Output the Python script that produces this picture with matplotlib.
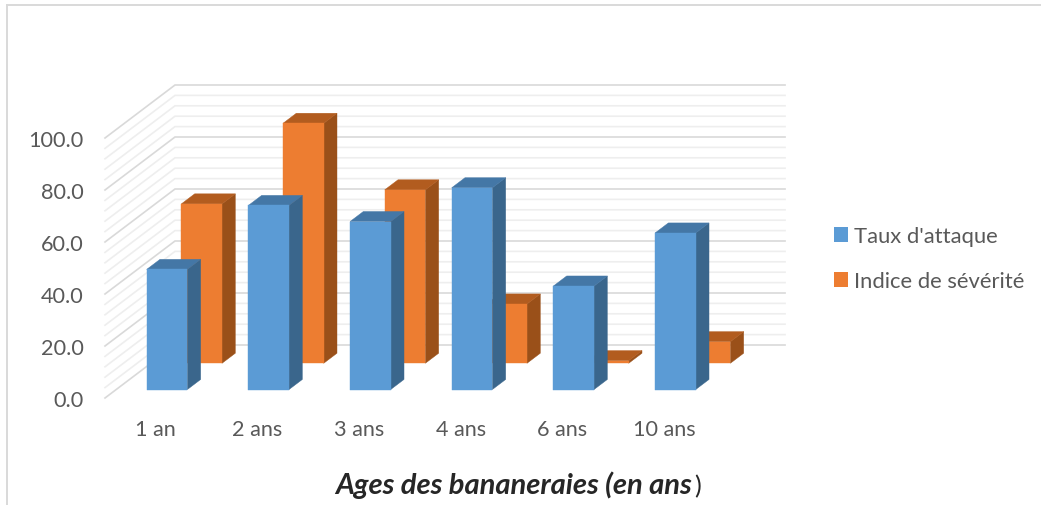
import matplotlib
matplotlib.use("Agg")
import matplotlib.pyplot as plt
from matplotlib.patches import Polygon, Patch
from matplotlib.lines import Line2D

categories = ["1 an", "2 ans", "3 ans", "4 ans", "6 ans", "10 ans"]
taux_attaque = [46.2, 70.8, 64.6, 77.6, 39.8, 60.2]
indice_severite = [61.3, 92.3, 66.7, 22.8, 1.0, 8.3]
value_ticks = [0, 20, 40, 60, 80, 100]
minor_ticks = [v for v in range(0, 101, 4) if v % 20]

W, H = 1041, 506
plt.rcParams["font.family"] = ["Lato", "DejaVu Sans"]
TEXT = "#595959"
GRID = "#D9D9D9"
GRID_MINOR = "#EEEEEE"

fig = plt.figure(figsize=(W / 100, H / 100), dpi=100)
ax = fig.add_axes([105 / W, (H - 399) / H, 680 / W, 313 / H])
ax.set_xlim(0, 680 / 101.67)
ax.set_ylim(0, 313 / 2.6)
ax.patch.set_alpha(0)
for s in ax.spines.values():
    s.set_visible(False)

# Oblique projection: depth 0 = front of the floor, depth 1 = back wall
DX = 70 / 101.67
DV = 53 / 2.6


def proj(cat, val, depth):
    return (cat + depth * DX, val + depth * DV)


# Walls and gridlines
n = len(categories)
for ticks, color, lw, z in ((minor_ticks, GRID_MINOR, 1.2, 1), (value_ticks, GRID, 1.2, 2)):
    for v in ticks:
        pts = [proj(0, v, 0), proj(0, v, 1), proj(n, v, 1)]
        ax.plot(*zip(*pts), color=color, lw=lw, zorder=z, clip_on=False,
                solid_joinstyle="miter")


def draw_bar(cat, val, d0, d1, front, side, top, z):
    x0, x1 = cat + 0.3, cat + 0.7
    ax.add_patch(Polygon([proj(x1, 0, d0), proj(x1, 0, d1), proj(x1, val, d1), proj(x1, val, d0)],
                         fc=side, ec=side, lw=0.3, zorder=z))
    ax.add_patch(Polygon([proj(x0, val, d0), proj(x1, val, d0), proj(x1, val, d1), proj(x0, val, d1)],
                         fc=top, ec=top, lw=0.3, zorder=z))
    ax.add_patch(Polygon([proj(x0, 0, d0), proj(x1, 0, d0), proj(x1, val, d0), proj(x0, val, d0)],
                         fc=front, ec=front, lw=0.3, zorder=z))


BLUE = ("#5B9BD5", "#3A668C", "#4477A6")
ORANGE = ("#ED7D31", "#9A5019", "#B25C1F")
for i, v in enumerate(indice_severite):
    draw_bar(i, v, 0.655, 0.845, *ORANGE, 5)
for i, v in enumerate(taux_attaque):
    draw_bar(i, v, 0.16, 0.35, *BLUE, 6)

ax.set_yticks(value_ticks, [f"{v:.1f}" for v in value_ticks])
ax.set_xticks([i + 0.5 for i in range(n)], categories)
ax.tick_params(axis="y", length=0, pad=15.5, labelsize=15.6, labelcolor=TEXT)
ax.tick_params(axis="x", length=0, pad=15, labelsize=15.6, labelcolor=TEXT)

# Legend
handles = [Patch(fc=BLUE[0], ec="none", label="Taux d'attaque"),
           Patch(fc=ORANGE[0], ec="none", label="Indice de sévérité")]
fig.legend(handles=handles, loc="center left", bbox_to_anchor=(834 / W, 1 - 259.5 / H),
           frameon=False, fontsize=15.8, labelcolor=TEXT, handlelength=0.64,
           handleheight=0.64, handletextpad=0.27, labelspacing=1.14, borderpad=0,
           borderaxespad=0)

# Axis title
t = fig.text(335 / W, 1 - 485 / H, "Ages des bananeraies (en ans", fontsize=21,
             fontweight="bold", fontstyle="italic", color="#262626", ha="left", va="center")
ax.annotate(")", xy=(1, 0), xycoords=t, xytext=(2, 0), textcoords="offset points",
            fontsize=18, color="#262626", ha="left", va="bottom", annotation_clip=False)

# Chart frame
fig.add_artist(Line2D([7 / W, 7 / W], [0, 1 - 5.5 / H], color=GRID, lw=1.4))
fig.add_artist(Line2D([7 / W, 1], [1 - 5.5 / H, 1 - 5.5 / H], color=GRID, lw=1.4))

fig.savefig("out.png", dpi=100)
